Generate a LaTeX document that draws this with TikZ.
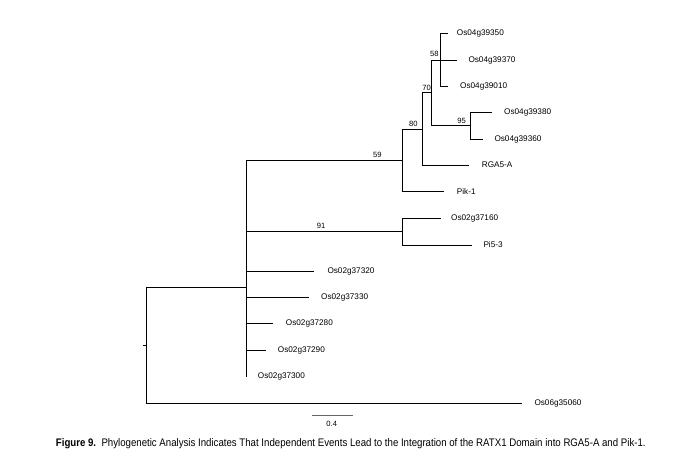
\documentclass[tikz,border=0pt]{standalone}
\usepackage{fontspec}
\usepackage{graphicx}
\setmainfont{Liberation Sans}
\newfontfamily\capfont[FakeStretch=0.88]{Liberation Sans}
\begin{document}
\begin{tikzpicture}[x=1pt,y=-1pt,
  branch/.style={line width=0.8pt,black},
  leaf/.style={anchor=west,inner sep=0pt,font=\fontsize{8.2}{10}\selectfont},
  boot/.style={inner sep=0pt,font=\fontsize{7.6}{9}\selectfont},
  barline/.style={line width=0.8pt,black!60}]
\useasboundingbox[fill=white] (0,0) rectangle (698,453);
% internal nodes
\coordinate (r) at (146.7,345.5);
\coordinate (rs) at (143.3,345.5);
\coordinate (A) at (246.3,287.4);
\coordinate (n59) at (402.7,160.7);
\coordinate (n80) at (422.7,129.3);
\coordinate (n70) at (431.7,92.7);
\coordinate (n58) at (440,60);
\coordinate (n95) at (470.7,125.7);
\coordinate (n91) at (402.3,231.7);
% tips (branch ends)
\coordinate (t1) at (447.7,33.3);
\coordinate (t2) at (457.3,60);
\coordinate (t3) at (448.3,86.7);
\coordinate (t4) at (492.3,112.7);
\coordinate (t5) at (483.3,139.3);
\coordinate (t6) at (469.3,165);
\coordinate (t7) at (444.3,191.7);
\coordinate (t8) at (441,218.3);
\coordinate (t9) at (472.3,245);
\coordinate (t10) at (314,271.7);
\coordinate (t11) at (309,297.5);
\coordinate (t12) at (273.3,323.3);
\coordinate (t13) at (266,350);
\coordinate (t14) at (246.3,376.7);
\coordinate (t15) at (522.3,403.3);
% branches
\draw[branch] (rs) -- (r);
\draw[branch] (r) |- (A);
\draw[branch] (r) |- (t15);
\draw[branch] (A) |- (n59);
\draw[branch] (A) |- (n91);
\draw[branch] (A) |- (t10);
\draw[branch] (A) |- (t11);
\draw[branch] (A) |- (t12);
\draw[branch] (A) |- (t13);
\draw[branch] (A) |- (t14);
\draw[branch] (n59) |- (n80);
\draw[branch] (n59) |- (t7);
\draw[branch] (n80) |- (n70);
\draw[branch] (n80) |- (t6);
\draw[branch] (n70) |- (n58);
\draw[branch] (n70) |- (n95);
\draw[branch] (n58) |- (t1);
\draw[branch] (n58) |- (t2);
\draw[branch] (n58) |- (t3);
\draw[branch] (n95) |- (t4);
\draw[branch] (n95) |- (t5);
\draw[branch] (n91) |- (t8);
\draw[branch] (n91) |- (t9);
% leaf labels
\node[leaf] (l1) at (456.7,33.3) {Os04g39350};
\node[leaf] (l2) at (468.3,60) {Os04g39370};
\node[leaf] (l3) at (460,86.7) {Os04g39010};
\node[leaf] (l4) at (504,112.7) {Os04g39380};
\node[leaf] (l5) at (494.3,139.3) {Os04g39360};
\node[leaf] (l6) at (481.7,165) {RGA5-A};
\node[leaf] (l7) at (456.7,191.7) {Pik-1};
\node[leaf] (l8) at (451,218.3) {Os02g37160};
\node[leaf] (l9) at (483.3,245) {Pi5-3};
\node[leaf] (l10) at (327.3,271.7) {Os02g37320};
\node[leaf] (l11) at (321,297.5) {Os02g37330};
\node[leaf] (l12) at (285.7,323.3) {Os02g37280};
\node[leaf] (l13) at (277.7,350) {Os02g37290};
\node[leaf] (l14) at (257.7,376.7) {Os02g37300};
\node[leaf] (l15) at (534.3,403.3) {Os06g35060};
% bootstrap values
\node[boot] (b58) at (434.3,54.3) {58};
\node[boot] (b70) at (426.7,87.7) {70};
\node[boot] (b80) at (413.3,124) {80};
\node[boot] (b95) at (461.7,121) {95};
\node[boot] (b59) at (377.3,155) {59};
\node[boot] (b91) at (321,226) {91};
% scale bar
\coordinate (s1) at (312.3,415);
\coordinate (s2) at (352.7,415);
\draw[barline] (s1) -- (s2);
\node[boot] (sl) at (331.7,423.5) {0.4};
% caption
\node[inner sep=0pt] (cap) at (350.8,443.5) {\resizebox{589.7pt}{!}{\capfont\fontsize{10}{12}\selectfont\textbf{Figure 9.}\ \ Phylogenetic Analysis Indicates That Independent Events Lead to the Integration of the RATX1 Domain into RGA5-A and Pik-1.}};
\end{tikzpicture}
\end{document}
